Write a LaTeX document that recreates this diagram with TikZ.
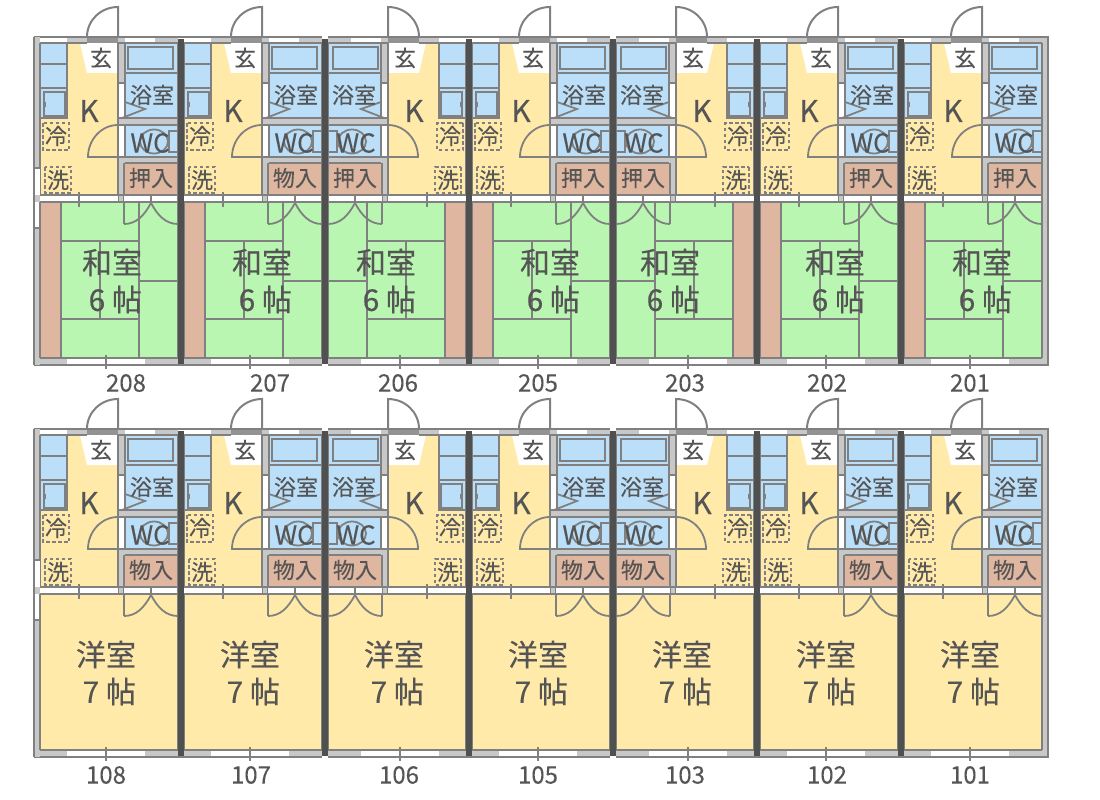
\documentclass[tikz,border=0pt]{standalone}
\usepackage{fontspec}
\setmainfont[FakeBold=0.15]{Noto Sans CJK JP}
\definecolor{wallgray}{HTML}{808080}
\definecolor{wallfill}{HTML}{C8C8C8}
\definecolor{darkwall}{HTML}{505050}
\definecolor{labelgray}{HTML}{555555}
\definecolor{bathblue}{HTML}{BBDFF9}
\definecolor{floorcream}{HTML}{FFEAAA}
\definecolor{tatamigreen}{HTML}{B9F6B1}
\definecolor{closettan}{HTML}{DFB69F}
\tikzset{
  wallline/.style={draw=wallgray, line width=2pt},
  thinline/.style={draw=wallgray, line width=1.8pt},
  dashbox/.style={draw=wallgray, line width=2.2pt, dash pattern=on 3.5pt off 2.5pt},
  wetroom/.style={wallline, fill=bathblue},
  closetroom/.style={wallline, fill=closettan},
  smalltext/.style={font=\fontsize{22}{22}\selectfont, text=labelgray, inner sep=0pt},
  wctext/.style={font=\fontsize{26}{26}\selectfont, text=labelgray, inner sep=0pt},
  kitchentext/.style={font=\fontsize{30}{30}\selectfont, text=labelgray, inner sep=0pt},
  roomtext/.style={font=\fontsize{30}{37}\selectfont, text=labelgray, inner sep=0pt, align=right},
  numbertext/.style={font=\fontsize{24}{24}\selectfont, text=labelgray, inner sep=0pt}
}

% kitchen, bath, WC, closet, walls and doors of one flat
\newcommand{\flatupper}[2]{%
  % kitchen floor
  \fill[floorcream] (40,43) rectangle (118,195);
  \fill[white] (80,43) -- (118,43) -- (118,73) -- (87,73) -- cycle;
  % sink, cooker
  \draw[wetroom] (40,43) rectangle (67,118);
  \draw[wallline] (40,64) -- (67,64);
  \draw[wallline] (40,88) -- (67,88);
  \draw[thinline] (44,92) rectangle (65,116);
  \fill[wallgray] (43,102) rectangle (46,107);
  \draw[wallline] (40,118) -- (40,195);
  % bath
  \draw[wetroom] (125,43) rectangle (178,118);
  \draw[wallline] (125,73) -- (178,73);
  \draw[wallline] (128,47) rectangle (173,69);
  \draw[thinline] (125,102) -- (145,109) -- (122,118);
  % WC
  \fill[wallfill] (118,118) rectangle (178,125);
  \draw[wetroom] (125,125) rectangle (178,157);
  \draw[thinline] (154,141.5) ellipse (14 and 12);
  \draw[thinline] (169,131) rectangle (178,152);
  % closet
  \fill[wallfill] (118,157) rectangle (178,195);
  \draw[closetroom] (124,163) rectangle (178,195);
  % wall beside the kitchen
  \fill[wallfill] (118,43) rectangle (125,83);
  \fill[wallfill] (118,157) rectangle (125,202);
  \draw[wallline] (118,37) -- (118,202);
  \draw[wallline] (125,43) -- (125,83);
  \draw[wallline] (118,83) -- (125,83);
  \draw[wallline] (118,118) -- (178,118);
  \draw[wallline] (118,125) -- (178,125);
  \draw[wallline] (118,157) -- (178,157);
  \draw[wallline] (124,163) -- (124,202);
  % band under the kitchen
  \fill[white] (40,195) rectangle (118,202);
  \fill[white] (124,195) rectangle (178,202);
  \draw[wallline] (34,195) -- (178,195);
  \draw[wallline] (34,202) -- (178,202);
  % top wall
  \fill[white] (40,37) rectangle (67,43);
  \fill[wallfill] (67,37) rectangle (87,43);
  \fill[wallgray!85] (87,37) rectangle (118,43);
  \fill[wallfill] (118,37) rectangle (125,43);
  \fill[white] (125,37) rectangle (155,43);
  \fill[wallfill] (155,37) rectangle (178,43);
  \draw[wallline] (34,37) -- (178,37);
  \draw[wallline] (34,43) -- (87,43);
  \draw[wallline] (118,43) -- (178,43);
  % bottom wall
  \fill[wallfill] (40,358) rectangle (67,365);
  \fill[white] (67,358) rectangle (145,365);
  \fill[wallfill] (145,358) rectangle (178,365);
  \draw[wallline] (34,358) -- (178,358);
  \draw[wallline] (34,365) -- (178,365);
  \draw[wallline] (40,202) -- (40,358);
  \draw[wallline] (178,43) -- (178,358);
  % doors
  \draw[wallline] (87,37) .. controls (87,20) and (101,7) .. (118,7) -- (118,37);
  \draw[thinline] (118,125) .. controls (101,125) and (88,140) .. (88,157) -- (118,157);
  \draw[thinline] (124,224) .. controls (136,224) and (144,216) .. (151,203);
  \draw[thinline] (151,203) .. controls (158,216) and (166,224) .. (178,224);
  \draw[thinline] (124,202) -- (124,224);
  \draw[thinline] (151,196) -- (151,203);
  % ticks
  \draw[thinline] (79,192) -- (79,207);
  \draw[thinline] (106,355) -- (106,369);
  % fridge, washer places
  \draw[dashbox] (43,123) rectangle (69,150);
  \draw[dashbox] (45,167) rectangle (71,193);
  % labels
  \node (gen#1) [smalltext] at (101,58) {玄};
  \node (bath#1) [smalltext] at (152,95) {浴室};
  \node (wc#1) [wctext] at (150,143) {WC};
  \node (cold#1) [smalltext] at (56,136) {冷};
  \node (wash#1) [smalltext] at (58,180) {洗};
  \node (closet#1) [smalltext] at (151,178) {#2};
}

\begin{document}
\begin{tikzpicture}[x=1pt, y=-1pt]
  \useasboundingbox (0,0) rectangle (1100,800);

  % upper floor
  \foreach \num/\ox/\mir/\cl/\kx/\lx/\nx in {208/0/1/押入/89/112/126, 207/144/1/物入/233/262/270, 206/506/-1/押入/414/386/398, 205/432/1/押入/521/550/538, 203/794/-1/押入/702/670/685, 202/720/1/押入/809/835/827, 201/864/1/押入/953/982/970} {
    \begin{scope}[shift={(\ox,0)}, xscale=\mir]
      \fill[tatamigreen] (40,202) rectangle (178,358);
      \draw[closetroom] (40,202) rectangle (61,358);
      \draw[wallline] (61,241) -- (139,241);
      \draw[wallline] (61,319) -- (139,319);
      \draw[wallline] (139,202) -- (139,358);
      \draw[wallline] (100,241) -- (100,319);
      \draw[wallline] (139,281) -- (178,281);
      \flatupper{\num}{\cl}
    \end{scope}
    \node (k\num) [kitchentext] at (\kx,111) {K};
    \node (room\num) [roomtext] at (\lx,281) {和室\\6 帖};
    \node (no\num) [numbertext] at (\nx,383) {\num};
  }

  % ground floor
  \foreach \num/\ox/\mir/\kx/\lx/\nx in {108/0/1/89/106/106, 107/144/1/233/250/251, 106/506/-1/414/394/399, 105/432/1/521/538/538, 103/794/-1/702/682/685, 102/720/1/809/826/827, 101/864/1/953/970/970} {
    \begin{scope}[shift={(\ox,392)}, xscale=\mir]
      \fill[floorcream] (40,202) rectangle (178,358);
      \flatupper{\num}{物入}
    \end{scope}
    \node (k\num) [kitchentext] at (\kx,503) {K};
    \node (room\num) [roomtext] at (\lx,673) {洋室\\7 帖};
    \node (no\num) [numbertext] at (\nx,775) {\num};
  }

  % outer walls and party walls
  \foreach \oy in {0,392} {
    \begin{scope}[shift={(0,\oy)}]
      \fill[wallfill] (34,37) rectangle (40,168);
      \fill[white] (34,168) rectangle (40,195);
      \fill[wallfill] (34,195) rectangle (40,202);
      \fill[white] (34,202) rectangle (40,228);
      \fill[wallfill] (34,228) rectangle (40,365);
      \draw[wallline] (34,37) -- (34,365);
      \draw[wallline] (40,43) -- (40,168);
      \draw[wallline] (34,168) -- (40,168);
      \draw[wallline] (34,228) -- (40,228);
      \draw[wallline] (40,202) -- (40,358);
      \fill[wallfill] (1042,37) rectangle (1048,365);
      \draw[wallline] (1042,43) -- (1042,358);
      \draw[wallline] (1042,37) -- (1048,37) -- (1048,365) -- (1042,365);
      \foreach \wx in {178,322,466,610,754,898} {
        \fill[darkwall] (\wx,39) rectangle (\wx+6,364);
      }
    \end{scope}
  }
\end{tikzpicture}
\end{document}
